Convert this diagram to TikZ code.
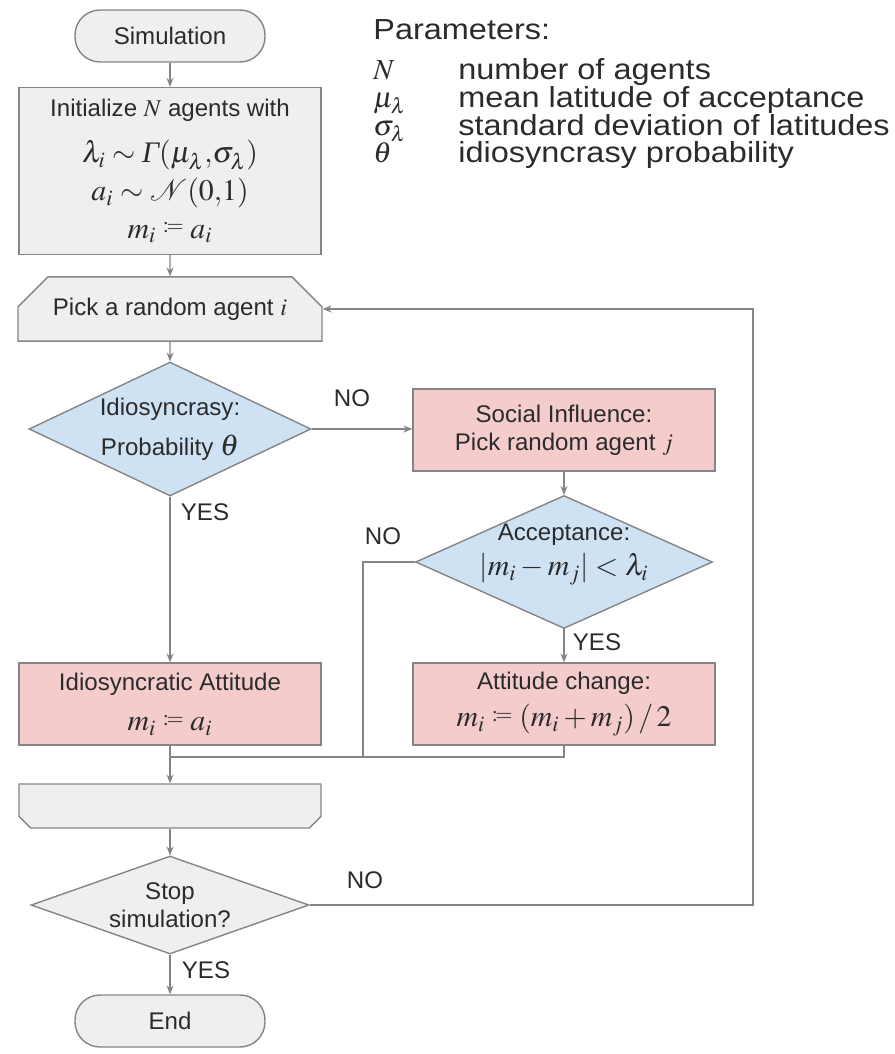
\documentclass[tikz,border=0pt]{standalone}
\usepackage{mathptmx}
\usepackage[no-math]{fontspec}
\setmainfont{Liberation Sans}
\newfontfamily\timesfont{Liberation Serif}
\newfontfamily\paramfont[FakeStretch=1.12]{Liberation Sans}
\usetikzlibrary{shapes.geometric,shapes.misc,arrows.meta}

\definecolor{boxgray}{HTML}{EFEFEF}
\definecolor{boxblue}{HTML}{CFE2F3}
\definecolor{boxpink}{HTML}{F4CCCC}
\definecolor{edgegray}{HTML}{858585}
\definecolor{inkgray}{HTML}{2B2B2B}

\newcommand{\eqsize}{\fontsize{17}{20}\selectfont}
\newcommand{\asgn}{\mathrel{\raisebox{0.35ex}{$\scriptstyle{:}\!=$}}}
\newcommand{\itGamma}{\mbox{\timesfont\itshape Γ}}

\tikzset{
  flow/.style={draw=edgegray, line width=0.8pt, text=inkgray, align=center,
    font=\fontsize{13.7}{16}\selectfont},
  terminal/.style={flow, rectangle, rounded corners=0.5cm, fill=boxgray,
    minimum width=3.8cm, minimum height=1.04cm},
  process/.style={flow, rectangle, minimum width=6.04cm, minimum height=1.64cm},
  decision/.style={flow, diamond, aspect=2.1, inner sep=-6pt},
  loopstart/.style={flow, chamfered rectangle,
    chamfered rectangle corners={north west,north east},
    chamfered rectangle xsep=0.3cm, chamfered rectangle ysep=0.3cm,
    fill=boxgray, minimum width=6.08cm, minimum height=1.16cm},
  loopend/.style={flow, chamfered rectangle,
    chamfered rectangle corners={south west,south east},
    chamfered rectangle xsep=0.45cm, chamfered rectangle ysep=0.45cm,
    fill=boxgray, minimum width=6.04cm, minimum height=0.88cm},
  link/.style={draw=edgegray, line width=0.7pt, -{Stealth[length=5pt,width=4pt]}},
  line/.style={draw=edgegray, line width=0.7pt},
  answer/.style={text=inkgray, inner sep=0pt, font=\fontsize{13.7}{16}\selectfont},
  param/.style={text=inkgray, inner sep=0pt, anchor=base west,
    font=\paramfont\fontsize{16.5}{18}\selectfont},
}

\begin{document}
\begin{tikzpicture}[x=0.02cm, y=-0.02cm]
    \path[use as bounding box] (0,0) rectangle (895,1054);

    % Parameters
    \node[param] (ptitle) at (373,40) {Parameters:};
    \node[param] (psymN) at (373,80) {$N$};
    \node[param] (pdescN) at (458,80) {number of agents};
    \node[param] (psymMu) at (373,108) {$\mu_\lambda$};
    \node[param] (pdescMu) at (458,108) {mean latitude of acceptance};
    \node[param] (psymSig) at (373,136) {$\sigma_\lambda$};
    \node[param] (pdescSig) at (458,136) {standard deviation of latitudes};
    \node[param] (psymTh) at (373,163) {$\theta$};
    \node[param] (pdescTh) at (458,163) {idiosyncrasy probability};

    % Left column
    \node[terminal] (sim) at (170,36) {Simulation};
    \node[process, fill=boxgray, minimum height=3.34cm,
          font=\fontsize{13.7}{21.5}\selectfont] (init) at (170,171)
        {Initialize $N$ agents with\\[5pt]
         {\eqsize $\lambda_i \sim \itGamma(\mu_\lambda{,}\sigma_\lambda)$}\\
         {\eqsize $a_i \sim \mathcal{N}(0{,}1)$}\\
         {\eqsize $m_i \asgn a_i$}};
    \node[loopstart] (pick) at (170,309) {Pick a random agent $i$};
    \node[decision, fill=boxblue, minimum width=5.64cm, minimum height=2.68cm,
          font=\fontsize{13.7}{23}\selectfont] (idio) at (170,429)
        {Idiosyncrasy:\\Probability {\eqsize$\theta$}};
    \node[process, fill=boxpink, font=\fontsize{13.7}{23}\selectfont] (idatt) at (170,704)
        {Idiosyncratic Attitude\\{\eqsize $m_i \asgn a_i$}};
    \node[loopend] (loopend) at (170,806) {};
    \node[decision, fill=boxgray, aspect=2.8, minimum width=5.56cm, minimum height=1.96cm]
        (stop) at (170,905) {Stop\\simulation?};
    \node[terminal] (endn) at (170,1021) {End};

    % Right column
    \node[process, fill=boxpink] (social) at (564,430)
        {Social Influence:\\Pick random agent $j$};
    \node[decision, fill=boxblue, aspect=2.2, minimum width=5.94cm, minimum height=2.66cm,
          font=\fontsize{13.7}{20}\selectfont] (accept) at (564,562)
        {Acceptance:\\{\eqsize $|m_i - m_j| < \lambda_i$}\\[-6pt]\mbox{}};
    \node[process, fill=boxpink, font=\fontsize{13.7}{21}\selectfont] (change) at (564,704)
        {Attitude change:\\{\eqsize $m_i \asgn (m_i + m_j)\,/\,2$}};

    % Answers
    \node[answer] (noSocial) at (352,398) {NO};
    \node[answer] (yesIdio) at (205,512) {YES};
    \node[answer] (noAccept) at (383,536) {NO};
    \node[answer] (yesAccept) at (597,642) {YES};
    \node[answer] (noStop) at (365,880) {NO};
    \node[answer] (yesStop) at (206,970) {YES};

    \coordinate (merge) at (170,757);
    \coordinate (nojoin) at (363,757);
    \coordinate (back) at (753,309);

    % Connectors
    \draw[link] (sim) -- (init);
    \draw[link] (init) -- (pick);
    \draw[link] (pick) -- (idio);
    \draw[link] (idio) -- (idatt);
    \draw[link] (idio.east) -- (idio.east -| social.west);
    \draw[link] (social) -- (accept);
    \draw[link] (accept) -- (change);
    \draw[line] (accept.west) -| (nojoin);
    \draw[line] (change.south) |- (merge);
    \draw[link] (idatt) -- (loopend);
    \draw[link] (loopend) -- (stop);
    \draw[link] (stop.east) -| (back) -- (pick.east);
    \draw[link] (stop) -- (endn);
\end{tikzpicture}
\end{document}
